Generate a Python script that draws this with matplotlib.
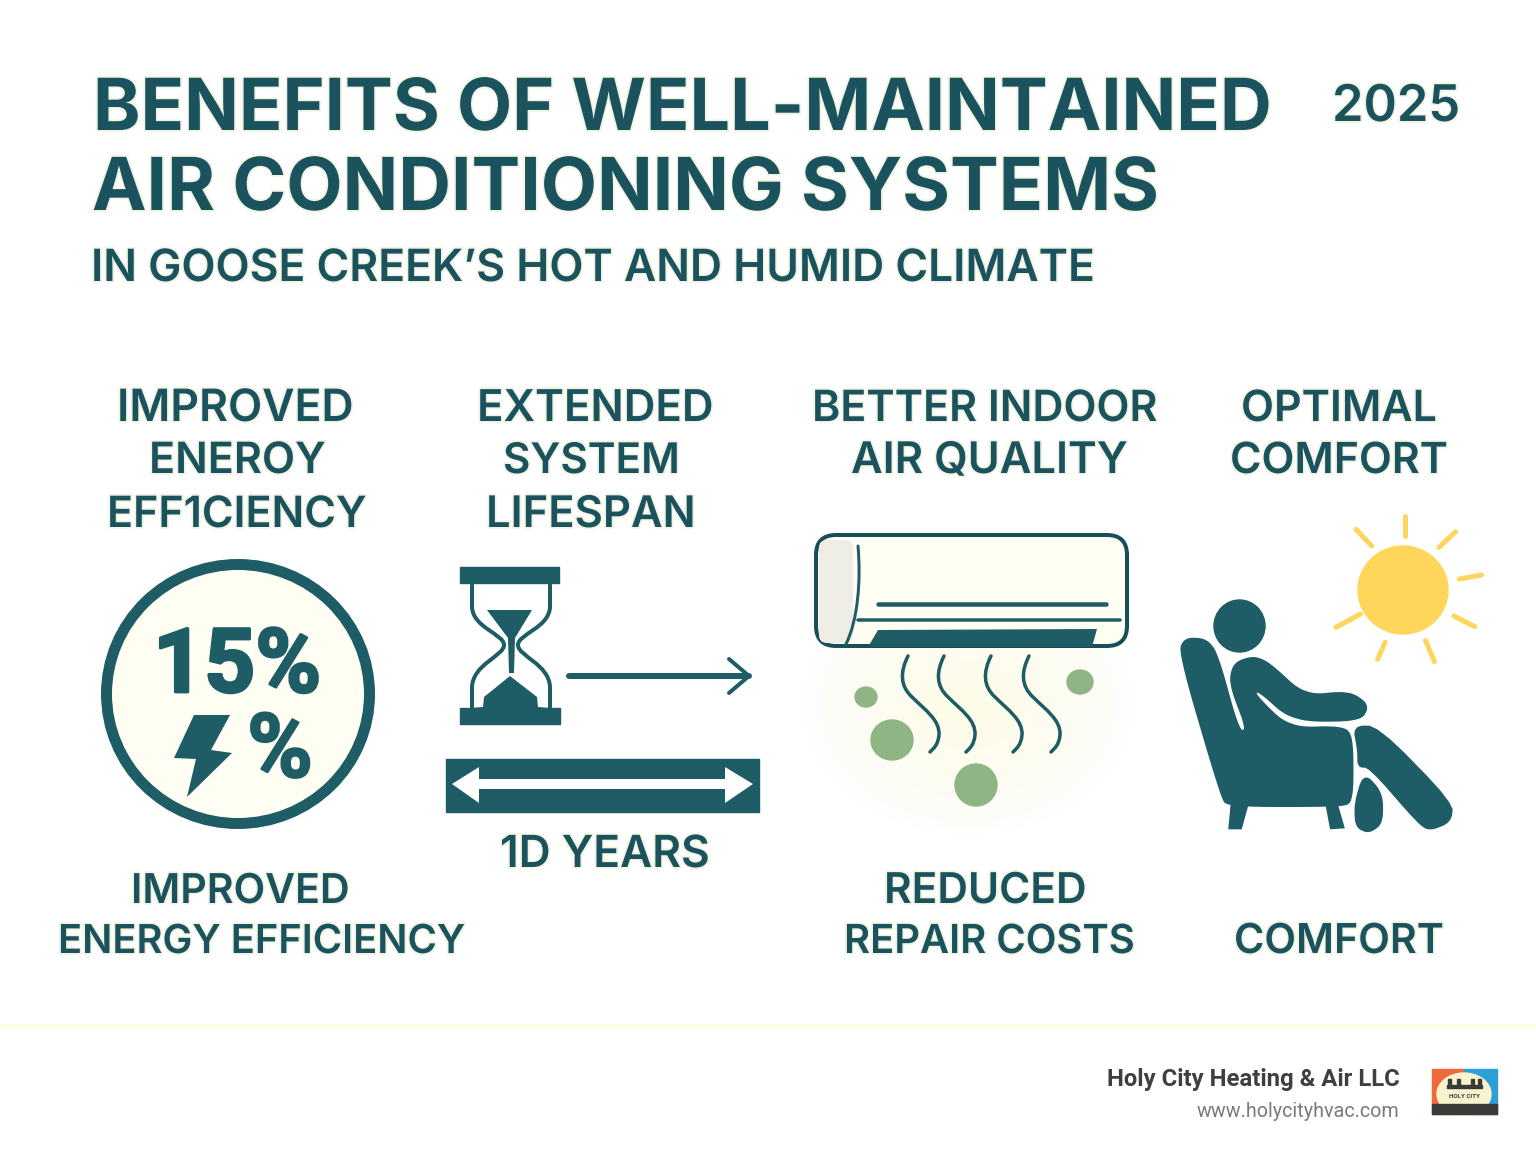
import matplotlib
matplotlib.use("Agg")
import matplotlib.pyplot as plt
import matplotlib.patheffects as pe
from matplotlib.patches import Ellipse, Polygon, Rectangle, FancyBboxPatch, PathPatch
from matplotlib.path import Path
import numpy as np

TEAL = "#1e5c66"
TEXT = "#1a535e"
CREAM = "#fffef3"
GREEN = "#8fb585"
SUN = "#ffd65c"

# label, left, right, baseline
TITLE_ROWS = [
    ("BENEFITS OF WELL-MAINTAINED", 93, 1270, 130),
    ("AIR CONDITIONING SYSTEMS", 92, 1157, 210),
]
SUBTITLE_ROW = ("IN GOOSE CREEK\u2019S HOT AND HUMID CLIMATE", 91, 1096, 281)
YEAR_ROW = ("2025", 1332, 1460, 121)
LABEL_ROWS = [
    ("IMPROVED", 117, 354, 421), ("ENEROY", 149, 326, 473), ("EFF1CIENCY", 107, 367, 527),
    ("EXTENDED", 477, 714, 421), ("SYSTEM", 503, 680, 473), ("LIFESPAN", 486, 696, 527),
    ("BETTER INDOOR", 812, 1158, 421), ("AIR QUALITY", 851, 1128, 473),
    ("OPTIMAL", 1241, 1437, 421), ("COMFORT", 1230, 1448, 473),
    ("1D YEARS", 500, 710, 867),
    ("IMPROVED", 131, 350, 903), ("ENERGY EFFICIENCY", 58, 466, 953),
    ("REDUCED", 884, 1087, 903), ("REPAIR COSTS", 844, 1135, 953),
    ("COMFORT", 1234, 1444, 953),
]
BIG_PERCENT = ("15%", 153, 321, 692)
SMALL_PERCENT = ("%", 247, 313, 777)
COMPANY = "Holy City Heating & Air LLC"
WEBSITE = "www.holycityhvac.com"

fig = plt.figure(figsize=(15.36, 11.54), dpi=100, facecolor="white")
ax = fig.add_axes([0, 0, 1, 1])
ax.set_xlim(0, 1536)
ax.set_ylim(1154, 0)
ax.axis("off")
renderer = fig.canvas.get_renderer()
PX = 0.72


def fit(row, family, weight, halo=True, color=TEXT, z=10, thicken=0):
    s, left, right, base = row
    t = ax.text(left, base, s, family=family, weight=weight, color=color,
                fontsize=40, ha="left", va="baseline", zorder=z)
    w = t.get_window_extent(renderer).width
    t.set_fontsize(40 * (right - left) / w)
    if halo:
        t.set_path_effects([pe.withStroke(linewidth=2.5, foreground="#f1f3e2")])
    elif thicken:
        t.set_path_effects([pe.withStroke(linewidth=thicken, foreground=color)])
    return t


def curve(points, color=TEAL, lw=4, z=5):
    codes = [Path.MOVETO] + [Path.CURVE4] * (len(points) - 1)
    ax.add_patch(PathPatch(Path(points, codes), fill=False, edgecolor=color,
                           lw=lw * PX, capstyle="round", zorder=z))


def poly(points, color=TEAL, z=5, lw=0):
    ax.add_patch(Polygon(points, closed=True, facecolor=color, edgecolor=color,
                         lw=lw * PX, joinstyle="round", zorder=z))


def soft(points, passes=3):
    pts = np.array(points, dtype=float)
    for _ in range(passes):
        nxt = np.roll(pts, -1, axis=0)
        pts = np.column_stack([0.78 * pts + 0.22 * nxt, 0.22 * pts + 0.78 * nxt]).reshape(-1, 2)
    return pts


def line(xs, ys, color=TEAL, lw=4, z=5):
    ax.plot(xs, ys, color=color, lw=lw * PX, solid_capstyle="round", zorder=z)


for row in TITLE_ROWS:
    fit(row, "Inter", "bold")
fit(SUBTITLE_ROW, "Inter", "semibold")
fit(YEAR_ROW, "Inter", "semibold")
for row in LABEL_ROWS:
    fit(row, "Inter", "semibold")

# efficiency badge
ax.add_patch(Ellipse((238, 694), 263, 259, facecolor=CREAM, edgecolor=TEAL, lw=11 * PX, zorder=3))
fit(BIG_PERCENT, "Roboto", "bold", halo=False, color=TEAL, thicken=2)
fit(SMALL_PERCENT, "Roboto", "bold", halo=False, color=TEAL, thicken=1.5)
poly([(194, 715), (230, 715), (211, 750), (232, 753), (187, 797), (196, 759), (174, 758)])

# hourglass
ax.add_patch(Rectangle((460, 567), 99, 16, color=TEAL, zorder=5))
ax.add_patch(Rectangle((460, 708), 100, 16, color=TEAL, zorder=5))
curve([(472, 583), (472, 592), (472, 600), (472, 607), (473, 628), (504, 634), (504, 645),
       (504, 656), (473, 664), (472, 687), (472, 695), (472, 702), (472, 708)], lw=4)
curve([(550, 583), (550, 592), (550, 600), (550, 607), (549, 628), (518, 634), (518, 645),
       (518, 656), (549, 664), (550, 687), (550, 695), (550, 702), (550, 708)], lw=4)
poly([(487, 610), (532, 610), (515, 638), (514, 673), (509, 673), (508, 638)])
poly([(510, 676), (537, 697), (538, 707), (549, 708), (472, 708), (483, 707), (484, 697)])

# arrow
line([569, 749], [676, 676], lw=6)
line([729, 749, 729], [659, 676, 693], lw=4)

# lifespan band
ax.add_patch(Rectangle((446, 759), 313, 53, color=TEAL, zorder=5))
poly([(452, 784), (479, 767), (479, 779), (725, 779), (725, 767), (753, 784),
      (725, 803), (725, 789), (479, 789), (479, 803)], color="white", z=6)

# glow below the unit
for f in np.linspace(1, 0.2, 18):
    ax.add_patch(Ellipse((968, 705), 330 * f, 260 * f, facecolor="#fdfcd8", edgecolor="none",
                         alpha=0.03, zorder=1))

# air conditioner
ax.add_patch(FancyBboxPatch((816, 535), 311, 111, boxstyle="round,pad=0,rounding_size=20",
                            facecolor=CREAM, edgecolor="#174f58", lw=4 * PX, zorder=3))
ax.add_patch(FancyBboxPatch((819, 540), 34, 103, boxstyle="round,pad=0,rounding_size=8",
                            facecolor="#eeeee6", edgecolor="none", zorder=4))
curve([(858, 546), (861, 580), (858, 620), (846, 644)], lw=3)
line([878, 1106], [604, 604], lw=4.5)
line([858, 1120], [620, 620], lw=3.5)
poly([(878, 630), (1097, 629), (1092, 647), (868, 647)])

for dx in [0, 36, 83, 121]:
    curve([(908 + dx, 656), (900 + dx, 672), (900 + dx, 686), (912 + dx, 697),
           (925 + dx, 710), (940 + dx, 720), (939 + dx, 735),
           (938 + dx, 745), (934 + dx, 748), (930 + dx, 752)], lw=3.5)

for cx, cy, rx, ry in [(866, 697, 11, 10), (892, 740, 21, 20), (976, 785, 21, 21), (1080, 682, 13, 12)]:
    ax.add_patch(Ellipse((cx, cy), 2 * rx, 2 * ry, color=GREEN, zorder=5))


def zp(pts):
    return [(800 + x / 2.23, 510 + y / 3) for x, y in pts]


# person in chair
poly(soft(zp([(845, 425), (860, 385), (905, 388), (930, 430), (978, 665), (998, 660), (958, 520),
              (968, 460), (1010, 440), (1045, 458), (1125, 558), (1225, 545), (1268, 585),
              (1250, 632), (1098, 632), (1022, 540), (1012, 552), (1090, 655), (1215, 650),
              (1232, 690), (1232, 875), (1205, 888), (955, 888), (940, 860)])), lw=2)
poly(zp([(960, 885), (1000, 885), (985, 958), (955, 958)]))
poly(zp([(1172, 885), (1200, 885), (1215, 955), (1182, 958)]))
poly(soft(zp([(1235, 650), (1288, 650), (1455, 880), (1450, 935), (1405, 960), (1380, 940),
              (1270, 770), (1245, 770), (1245, 720)]), passes=2), lw=2)
poly(soft(zp([(1258, 790), (1298, 850), (1298, 940), (1268, 968), (1240, 950), (1238, 880)])), lw=2)
ax.add_patch(Ellipse((1239.5, 626), 51, 52, color=TEAL, zorder=5))

# sun
ax.add_patch(Ellipse((1403, 590), 90, 88, color=SUN, zorder=5))
for a, b in [((1350, 18), (1350, 78)), ((1240, 58), (1275, 108)), ((1462, 65), (1425, 112)),
             ((1520, 195), (1470, 207)), ((1505, 350), (1458, 318)), ((1415, 455), (1395, 392)),
             ((1288, 448), (1305, 397)), ((1195, 352), (1250, 312))]:
    (x0, y0), (x1, y1) = zp([a, b])
    line([x0, x1], [y0, y1], color=SUN, lw=5)

# footer
ax.add_patch(Rectangle((0, 1024), 1536, 3, color="#fffde0", zorder=1))
fit((COMPANY, 1107, 1400, 1086), "Roboto", "bold", halo=False, color="#3f3f3f")
fit((WEBSITE, 1197, 1400, 1117), "Roboto", "normal", halo=False, color="#7a7a7a")

# logo
ax.add_patch(Rectangle((1432, 1069), 32, 45, color="#ef6a3a", zorder=3))
ax.add_patch(Rectangle((1464, 1069), 33, 45, color="#2e9fd6", zorder=3))
ax.add_patch(Ellipse((1464, 1094), 54, 42, color="#f8f3cf", zorder=4))
ax.add_patch(Rectangle((1432, 1104), 65, 10, color="#3a3a38", zorder=5))
ax.add_patch(Rectangle((1447, 1085), 35, 3, color="#3a3a38", zorder=5))
for sx in [1448, 1457, 1471, 1478]:
    ax.add_patch(Rectangle((sx, 1079), 3, 7, color="#3a3a38", zorder=5))
ax.text(1464.5, 1097, "HOLY CITY", fontsize=4.5, weight="bold", color="#3a3a38", family="Roboto",
        ha="center", va="center", zorder=6)

fig.savefig("out.png", dpi=100, facecolor="white")
